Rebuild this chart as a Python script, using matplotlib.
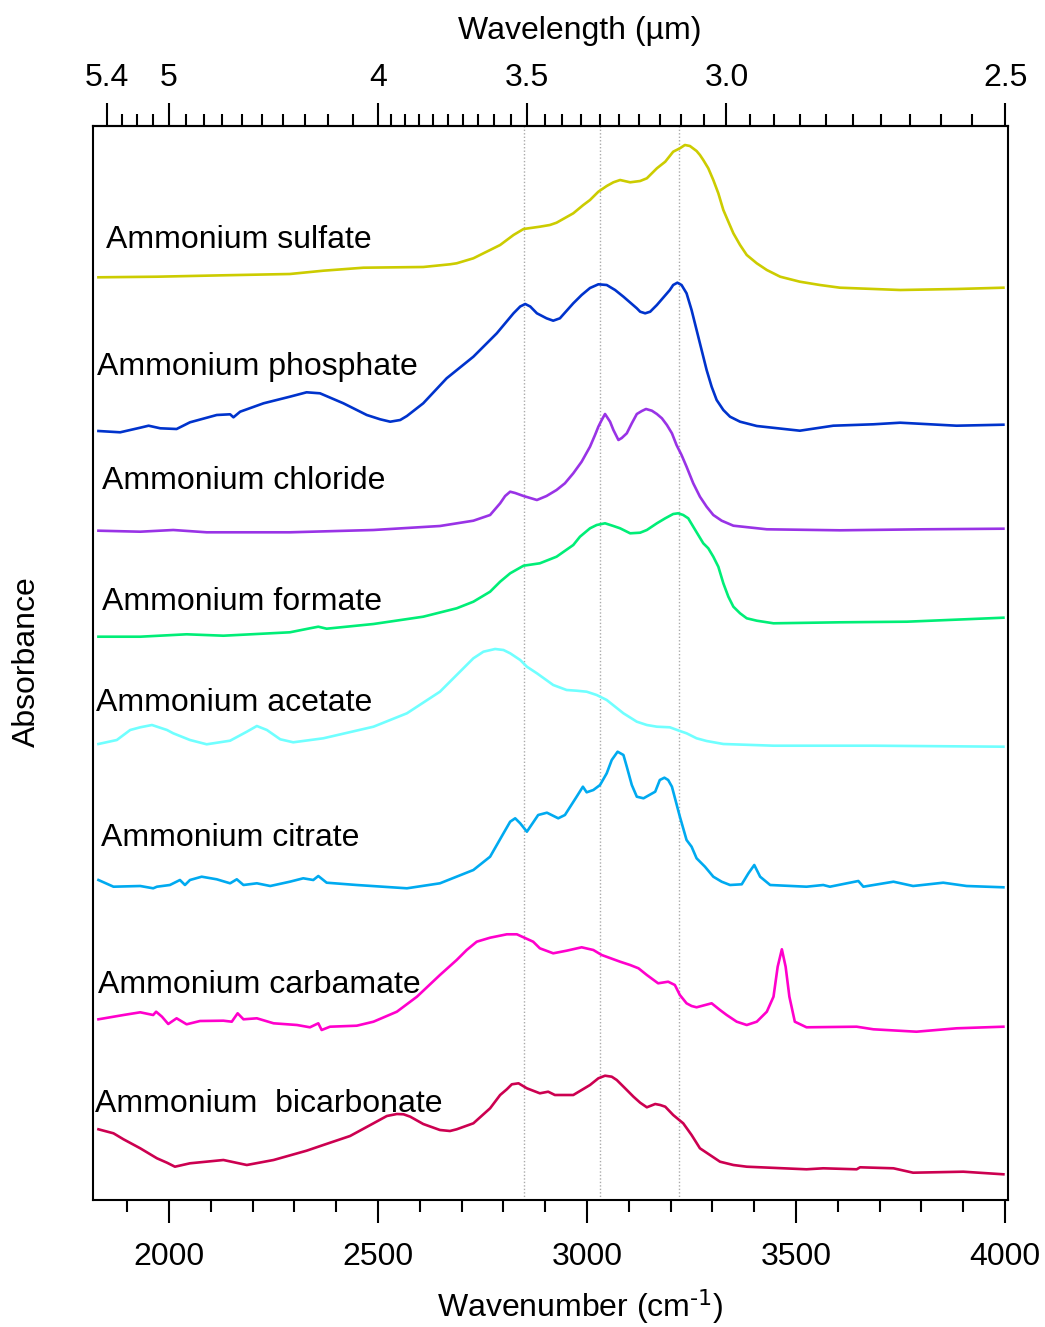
import numpy as np
import matplotlib
matplotlib.use("Agg")
import matplotlib.pyplot as plt

plt.rcParams['font.family'] = ['Liberation Sans', 'DejaVu Sans']
plt.rcParams['mathtext.default'] = 'regular'

# ---------------- data (wavenumber cm-1, stacked absorbance, arbitrary units) ----------------
names = ["Ammonium sulfate", "Ammonium phosphate", "Ammonium chloride", "Ammonium formate",
         "Ammonium acetate", "Ammonium citrate", "Ammonium carbamate", "Ammonium  bicarbonate"]
colors = ["#CCCC00", "#0033CC", "#9933E6", "#00EE77", "#70FFFF", "#00AAF0", "#FF00CC", "#CC0050"]

sulfate_wn = [1831, 1971, 2130, 2289, 2369, 2465, 2608, 2672, 2688, 2728, 2752, 2768, 2792, 2808, 2824,
              2848, 2887, 2911, 2927, 2967, 2991, 3007, 3027, 3047, 3063, 3079, 3103, 3127, 3143, 3167,
              3187, 3206, 3222, 3234, 3246, 3262, 3270, 3278, 3290, 3302, 3314, 3326, 3338, 3350, 3366,
              3382, 3406, 3430, 3462, 3509, 3557, 3605, 3749, 3884, 3996]
sulfate_a = [9.227, 9.233, 9.247, 9.26, 9.293, 9.323, 9.33, 9.357, 9.367, 9.417, 9.467, 9.50, 9.55, 9.6,
             9.65, 9.71, 9.733, 9.75, 9.773, 9.867, 9.95, 10.0, 10.083, 10.14, 10.177, 10.2, 10.177,
             10.19, 10.217, 10.317, 10.383, 10.483, 10.517, 10.55, 10.54, 10.49, 10.45, 10.40, 10.317,
             10.2, 10.067, 9.9, 9.783, 9.667, 9.55, 9.45, 9.367, 9.3, 9.233, 9.183, 9.15, 9.123, 9.1,
             9.11, 9.123]

phosphate_wn = [1831, 1883, 1931, 1951, 1979, 2018, 2050, 2114, 2146, 2154, 2170, 2226, 2289, 2329, 2361,
                2417, 2473, 2505, 2529, 2553, 2569, 2608, 2664, 2728, 2784, 2824, 2840, 2852, 2864, 2880,
                2903, 2919, 2935, 2967, 2987, 3007, 3027, 3047, 3067, 3087, 3119, 3127, 3139, 3151, 3167,
                3198, 3206, 3216, 3226, 3238, 3250, 3262, 3274, 3286, 3298, 3310, 3326, 3342, 3366, 3406,
                3509, 3589, 3685, 3749, 3884, 3996]
phosphate_a = [7.69, 7.677, 7.723, 7.743, 7.717, 7.71, 7.777, 7.85, 7.857, 7.827, 7.883, 7.967, 8.033,
               8.077, 8.067, 7.967, 7.85, 7.807, 7.783, 7.80, 7.84, 7.967, 8.217, 8.433, 8.667, 8.867,
               8.935, 8.96, 8.935, 8.867, 8.817, 8.793, 8.817, 8.967, 9.05, 9.12, 9.157, 9.15, 9.10,
               9.033, 8.917, 8.883, 8.867, 8.883, 8.95, 9.1, 9.15, 9.173, 9.15, 9.067, 8.90, 8.70, 8.50,
               8.30, 8.133, 8.0, 7.90, 7.833, 7.783, 7.74, 7.693, 7.743, 7.757, 7.773, 7.743, 7.753]

chloride_wn = [1831, 1931, 2010, 2090, 2289, 2489, 2648, 2728, 2768, 2792, 2804, 2816, 2828, 2848, 2880,
               2903, 2927, 2947, 2967, 2987, 3007, 3019, 3027, 3035, 3043, 3055, 3063, 3075, 3083, 3095,
               3107, 3119, 3131, 3141, 3155, 3167, 3179, 3191, 3203, 3214, 3226, 3238, 3254, 3270, 3286,
               3302, 3322, 3350, 3430, 3605, 3804, 3996]
chloride_a = [6.693, 6.683, 6.70, 6.677, 6.677, 6.70, 6.74, 6.793, 6.85, 6.967, 7.04, 7.083, 7.07, 7.04,
              7.0, 7.04, 7.10, 7.167, 7.267, 7.383, 7.533, 7.65, 7.733, 7.80, 7.86, 7.783, 7.70, 7.60,
              7.62, 7.667, 7.767, 7.86, 7.89, 7.91, 7.893, 7.86, 7.817, 7.75, 7.667, 7.55, 7.45, 7.333,
              7.167, 7.033, 6.933, 6.85, 6.793, 6.743, 6.707, 6.697, 6.707, 6.713]

formate_wn = [1831, 1931, 2042, 2130, 2289, 2337, 2357, 2377, 2489, 2608, 2688, 2728, 2768, 2792, 2816,
              2848, 2887, 2927, 2967, 2983, 3007, 3023, 3043, 3063, 3079, 3103, 3127, 3143, 3167, 3187,
              3206, 3218, 3230, 3242, 3254, 3278, 3290, 3302, 3314, 3326, 3338, 3350, 3366, 3382, 3406,
              3446, 3605, 3765, 3996]
formate_a = [5.633, 5.633, 5.657, 5.643, 5.677, 5.717, 5.733, 5.713, 5.76, 5.833, 5.917, 5.983, 6.083,
             6.183, 6.267, 6.343, 6.367, 6.433, 6.55, 6.633, 6.717, 6.75, 6.767, 6.74, 6.717, 6.667,
             6.673, 6.70, 6.767, 6.817, 6.86, 6.867, 6.85, 6.817, 6.733, 6.567, 6.517, 6.433, 6.333,
             6.167, 6.033, 5.933, 5.867, 5.817, 5.793, 5.767, 5.777, 5.783, 5.823]

acetate_wn = [1831, 1875, 1907, 1931, 1959, 1995, 2010, 2050, 2090, 2146, 2186, 2210, 2234, 2266, 2297,
              2369, 2489, 2569, 2648, 2688, 2728, 2752, 2780, 2800, 2816, 2840, 2856, 2880, 2919, 2951,
              2975, 2999, 3023, 3047, 3087, 3119, 3143, 3167, 3198, 3222, 3238, 3262, 3286, 3326, 3446,
              3685, 3996]
acetate_a = [4.56, 4.60, 4.70, 4.727, 4.75, 4.70, 4.667, 4.60, 4.557, 4.593, 4.683, 4.74, 4.70, 4.607,
             4.577, 4.617, 4.733, 4.867, 5.083, 5.25, 5.417, 5.483, 5.51, 5.50, 5.467, 5.40, 5.333,
             5.267, 5.15, 5.10, 5.093, 5.083, 5.05, 5.00, 4.867, 4.783, 4.75, 4.733, 4.727, 4.69, 4.667,
             4.617, 4.59, 4.56, 4.543, 4.543, 4.533]

citrate_wn = [1831, 1867, 1931, 1962, 1971, 2002, 2026, 2038, 2050, 2078, 2114, 2146, 2162, 2178, 2210,
              2242, 2289, 2321, 2345, 2357, 2377, 2449, 2569, 2648, 2728, 2768, 2800, 2816, 2828, 2840,
              2856, 2883, 2904, 2931, 2947, 2975, 2990, 2999, 3015, 3031, 3047, 3059, 3073, 3087, 3095,
              3107, 3119, 3135, 3163, 3174, 3185, 3194, 3203, 3222, 3238, 3250, 3262, 3282, 3302, 3322,
              3342, 3370, 3386, 3400, 3414, 3438, 3525, 3565, 3581, 3649, 3661, 3733, 3780, 3852, 3908,
              3996]
citrate_a = [3.20, 3.133, 3.14, 3.117, 3.133, 3.15, 3.20, 3.15, 3.20, 3.233, 3.207, 3.167, 3.207, 3.15,
             3.167, 3.14, 3.183, 3.217, 3.20, 3.24, 3.173, 3.15, 3.117, 3.167, 3.30, 3.433, 3.667, 3.783,
             3.817, 3.767, 3.683, 3.85, 3.873, 3.817, 3.85, 4.033, 4.133, 4.077, 4.10, 4.15, 4.267,
             4.40, 4.483, 4.45, 4.333, 4.15, 4.033, 4.017, 4.083, 4.20, 4.223, 4.20, 4.133, 3.833, 3.60,
             3.533, 3.417, 3.333, 3.233, 3.183, 3.15, 3.157, 3.267, 3.35, 3.233, 3.15, 3.133, 3.15,
             3.133, 3.19, 3.133, 3.183, 3.14, 3.173, 3.14, 3.127]

carbamate_wn = [1831, 1891, 1931, 1962, 1969, 1983, 1998, 2018, 2042, 2074, 2130, 2150, 2164, 2178, 2210,
                2250, 2306, 2337, 2357, 2365, 2385, 2449, 2489, 2545, 2593, 2648, 2688, 2712, 2736, 2768,
                2808, 2832, 2871, 2887, 2919, 2951, 2987, 3015, 3035, 3079, 3103, 3123, 3143, 3170, 3194,
                3210, 3222, 3238, 3250, 3262, 3298, 3318, 3334, 3358, 3382, 3406, 3430, 3446, 3456, 3466,
                3475, 3484, 3497, 3525, 3645, 3685, 3788, 3884, 3996]
carbamate_a = [1.807, 1.85, 1.877, 1.85, 1.883, 1.833, 1.76, 1.817, 1.757, 1.79, 1.793, 1.783, 1.867,
               1.807, 1.817, 1.767, 1.75, 1.727, 1.767, 1.70, 1.733, 1.743, 1.783, 1.883, 2.033, 2.25,
               2.40, 2.50, 2.583, 2.623, 2.657, 2.657, 2.583, 2.517, 2.467, 2.493, 2.527, 2.50, 2.45,
               2.383, 2.35, 2.317, 2.25, 2.167, 2.183, 2.15, 2.05, 1.967, 1.94, 1.927, 1.967, 1.90, 1.85,
               1.783, 1.75, 1.783, 1.883, 2.033, 2.333, 2.507, 2.333, 2.033, 1.783, 1.727, 1.733, 1.707,
               1.683, 1.717, 1.733]

bicarbonate_wn = [1831, 1867, 1891, 1931, 1971, 1995, 2014, 2050, 2130, 2186, 2250, 2329, 2369, 2433,
                  2489, 2521, 2545, 2561, 2577, 2608, 2648, 2672, 2688, 2728, 2768, 2792, 2808, 2820,
                  2836, 2856, 2887, 2907, 2923, 2967, 3007, 3027, 3043, 3059, 3071, 3091, 3111, 3127,
                  3143, 3163, 3175, 3187, 3206, 3230, 3250, 3270, 3294, 3318, 3350, 3382, 3525, 3565,
                  3645, 3653, 3733, 3780, 3900, 3996]
bicarbonate_a = [0.707, 0.667, 0.607, 0.517, 0.417, 0.373, 0.333, 0.367, 0.40, 0.35, 0.40, 0.493, 0.55,
                 0.64, 0.767, 0.84, 0.86, 0.857, 0.833, 0.76, 0.70, 0.69, 0.707, 0.767, 0.917, 1.05,
                 1.107, 1.157, 1.167, 1.117, 1.067, 1.083, 1.05, 1.05, 1.15, 1.217, 1.243, 1.233, 1.20,
                 1.117, 1.033, 0.973, 0.927, 0.96, 0.95, 0.933, 0.85, 0.767, 0.65, 0.517, 0.45, 0.383,
                 0.35, 0.333, 0.307, 0.317, 0.307, 0.327, 0.317, 0.273, 0.283, 0.257]

spectra_wn = [sulfate_wn, phosphate_wn, chloride_wn, formate_wn, acetate_wn, citrate_wn, carbamate_wn, bicarbonate_wn]
spectra_a = [sulfate_a, phosphate_a, chloride_a, formate_a, acetate_a, citrate_a, carbamate_a, bicarbonate_a]

# label anchor (wavenumber, absorbance baseline)
label_wn = [1849, 1828, 1840, 1840, 1825, 1837, 1830, 1823]
label_a = [9.52, 8.25, 7.11, 5.90, 4.89, 3.543, 2.073, 0.883]

ref_lines = [2850, 3030, 3220]

bottom_major = [2000, 2500, 3000, 3500, 4000]
bottom_minor = list(range(1900, 4001, 100))
top_major_um = [5.4, 5, 4, 3.5, 3.0, 2.5]
top_major_lbl = ["5.4", "5", "4", "3.5", "3.0", "2.5"]
top_minor_um = [5.3, 5.2, 5.1, 4.9, 4.8, 4.7, 4.6, 4.5, 4.4, 4.3, 4.2, 4.1,
                3.95, 3.9, 3.85, 3.8, 3.75, 3.7, 3.65, 3.6, 3.55,
                3.45, 3.4, 3.35, 3.3, 3.25, 3.2, 3.15, 3.1, 3.05,
                2.95, 2.9, 2.85, 2.8, 2.75, 2.7, 2.65, 2.6, 2.55]

# ---------------- figure ----------------
W, H = 1045, 1327
fig = plt.figure(figsize=(W / 100, H / 100), dpi=100)
ax = fig.add_axes([93 / W, 1 - 1200 / H, (1008 - 93) / W, (1200 - 126) / H])
xmin, xmax = 1818, 4007
ax.set_xlim(xmin, xmax)
ax.set_ylim(0.0, 10.74)

for xv in ref_lines:
    ax.axvline(xv, color="#aaaaaa", lw=1.0, ls=(0, (1, 1.5)), zorder=1)

for wn, a, c in zip(spectra_wn, spectra_a, colors):
    order = np.argsort(wn)
    ax.plot(np.asarray(wn)[order], np.asarray(a)[order], color=c, lw=1.9,
            solid_joinstyle="round", zorder=3)

fs = 23
for name, lx, ly in zip(names, label_wn, label_a):
    ax.text(lx, ly, name, fontsize=fs, ha="left", va="baseline", zorder=4)

for s in ax.spines.values():
    s.set_linewidth(1.5)
ax.set_yticks([])
ax.set_xticks(bottom_major)
ax.set_xticklabels([str(v) for v in bottom_major])
ax.set_xticks(bottom_minor, minor=True)
ax.tick_params(axis="x", which="major", direction="out", length=16.5, width=1.5, labelsize=fs, pad=14)
ax.tick_params(axis="x", which="minor", direction="out", length=8.5, width=1.5)

ax2 = ax.twiny()
ax2.set_xlim(xmin, xmax)
ax2.set_xticks([1e4 / l for l in top_major_um])
ax2.set_xticklabels(top_major_lbl)
ax2.set_xticks([1e4 / l for l in top_minor_um], minor=True)
ax2.tick_params(axis="x", which="major", direction="out", length=16.5, width=1.5, labelsize=fs, pad=7)
ax2.tick_params(axis="x", which="minor", direction="out", length=8.5, width=1.5)
for k in ["bottom", "left", "right"]:
    ax2.spines[k].set_visible(False)
ax2.spines["top"].set_linewidth(1.5)

fig.text(580 / W, 1 - 31 / H, "Wavelength (µm)", fontsize=fs, ha="center", va="center")
fig.text(580 / W, 1 - 1306 / H, r"Wavenumber (cm$^{\text{-1}}$)", fontsize=fs, ha="center", va="center")
fig.text(27 / W, 1 - 662 / H, "Absorbance", fontsize=fs, ha="center", va="center", rotation=90)

fig.savefig("out.png", dpi=100)
